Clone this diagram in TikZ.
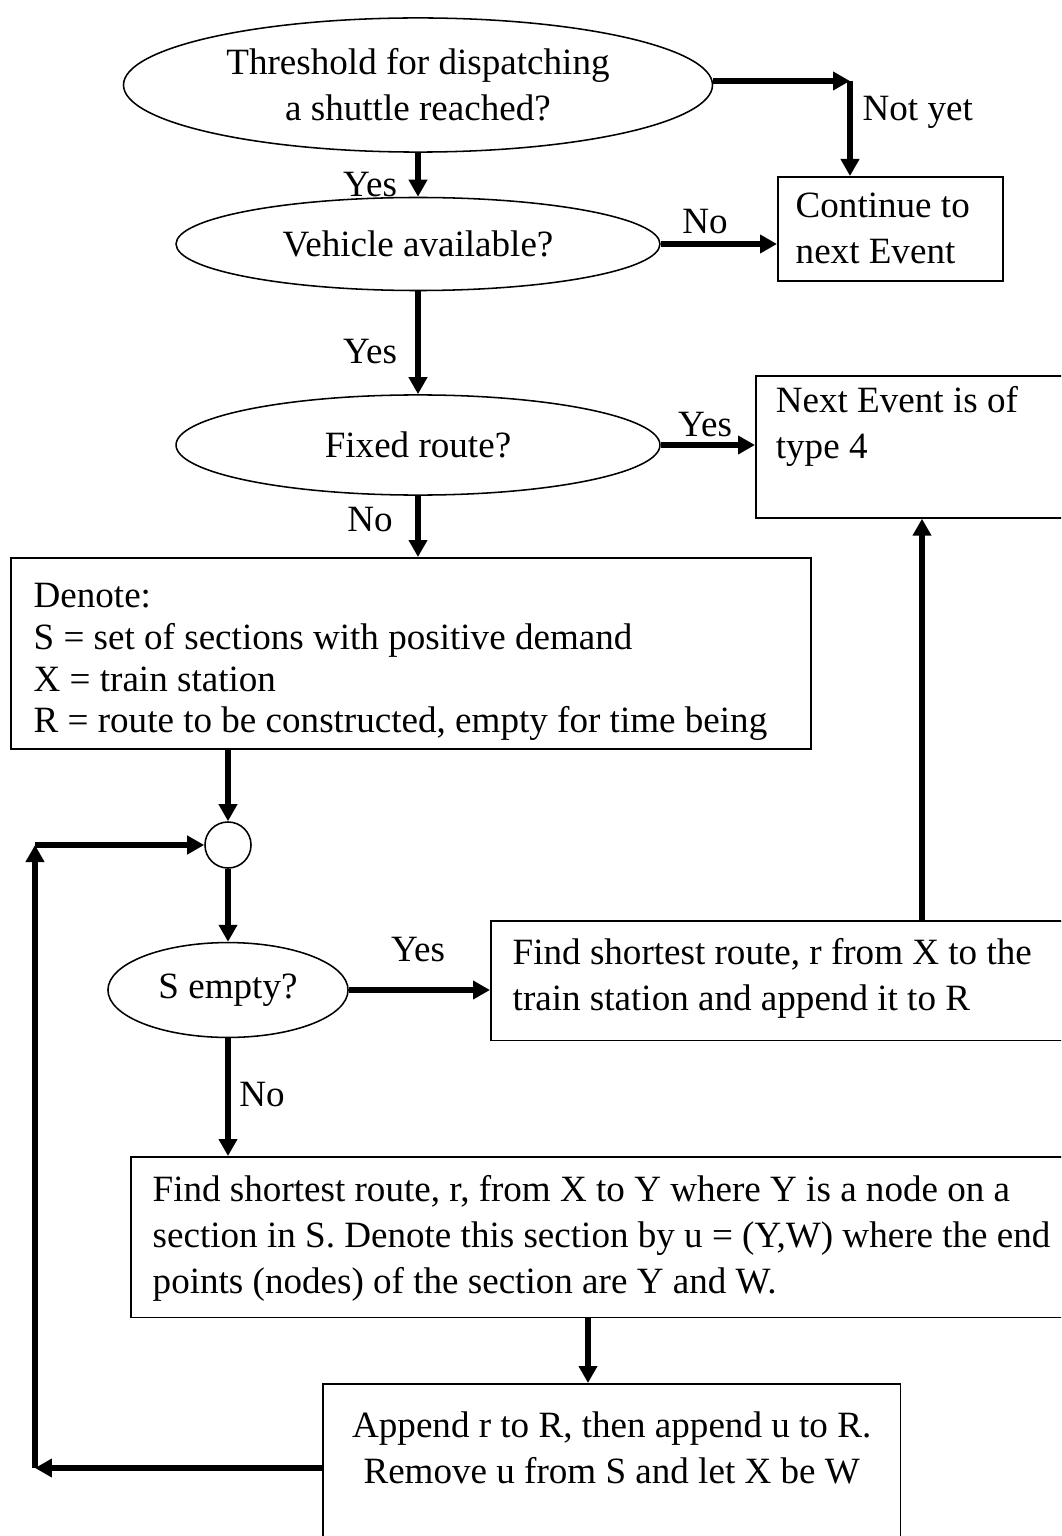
\documentclass[tikz,border=0pt]{standalone}
\usepackage{fontspec}
\setmainfont{Liberation Serif}
\usepackage{tikz}
\usetikzlibrary{shapes.geometric,arrows.meta}

\begin{document}
\begin{tikzpicture}[x=0.3236pt,y=-0.3236pt]
    \tikzstyle{decision} = [ellipse, draw, line width=0.5pt, inner sep=0pt, align=center, font=\fontsize{12pt}{14.9pt}\selectfont]
    \tikzstyle{stepbox} = [rectangle, draw, line width=0.5pt, anchor=north west, inner ysep=0pt, align=flush left, font=\fontsize{12pt}{14.8pt}\selectfont]
    \tikzstyle{flow} = [line width=1.9pt, -{Triangle[length=5.5pt,width=5.8pt]}]
    \tikzstyle{answer} = [inner sep=0pt, font=\fontsize{12pt}{14.8pt}\selectfont]

    \useasboundingbox (0,0) rectangle (1061,1536);
    \clip (0,0) rectangle (1061,1536);

    \node [decision, minimum width=190.6pt, minimum height=43.4pt] (dispatch) at (418,85) {Threshold for dispatching\\a shuttle reached?};
    \node [decision, minimum width=156.6pt, minimum height=30.1pt] (vehicle) at (418,244) {Vehicle available?};
    \node [decision, minimum width=156.6pt, minimum height=32.4pt] (fixed) at (418,445) {Fixed route?};
    \node [stepbox, inner xsep=5.8pt, text width=61.2pt, text height=13.3pt, text depth=20.4pt] (continue) at (777,176) {Continue to\\next Event};
    \node [stepbox, inner xsep=6.5pt, text width=100pt, text height=12pt, text depth=34pt] (nextev) at (755,375) {Next Event is of\\type 4};
    \node [stepbox, inner xsep=7.4pt, text width=244.1pt, text height=16.2pt, text depth=45.6pt, font=\fontsize{12pt}{13.5pt}\selectfont] (denote) at (10,557) {Denote:\\S = set of sections with positive demand\\X = train station\\R = route to be constructed, empty for time being};
    \node [circle, draw, line width=0.5pt, minimum size=14.9pt, inner sep=0pt] (merge) at (228,845) {};
    \node [decision, minimum width=77.7pt, minimum height=30.7pt] (empty) at (228,990) {S empty?};
    \node [stepbox, inner xsep=7.1pt, text width=180pt, text height=14.2pt, text depth=24.6pt] (find1) at (490,920) {Find shortest route, r from X to the\\train station and append it to R};
    \node [stepbox, inner xsep=7.1pt, text width=300pt, text height=14.6pt, text depth=37.4pt] (find2) at (130,1156) {Find shortest route, r, from X to Y where Y is a node on a\\section in S. Denote this section by u = (Y,W) where the end\\points (nodes) of the section are Y and W.};
    \node [stepbox, align=flush center, inner xsep=5pt, text width=177pt, text height=17.5pt, text depth=40pt] (append) at (322,1383) {Append r to R, then append u to R.\\Remove u from S and let X be W};

    % Labels
    \node [answer, anchor=west] (notyet) at (862,112) {Not yet};
    \node [answer] (yes1) at (370,185) {Yes};
    \node [answer] (no1) at (705,222) {No};
    \node [answer] (yes2) at (370,352) {Yes};
    \node [answer] (yes3) at (705,425) {Yes};
    \node [answer] (no2) at (370,520) {No};
    \node [answer] (yes4) at (418,950) {Yes};
    \node [answer] (no3) at (262,1095) {No};

    % Connectors
    \coordinate (nycorner) at (850,81);
    \draw [flow] (dispatch.east |- nycorner) -- (nycorner);
    \draw [flow] (nycorner) -- (nycorner |- continue.north);
    \draw [flow] (dispatch) -- (vehicle);
    \draw [flow] (vehicle.east) -- (vehicle.east -| continue.west);
    \draw [flow] (vehicle) -- (fixed);
    \draw [flow] (fixed.east) -- (fixed.east -| nextev.west);
    \draw [flow] (fixed.south) -- (fixed.south |- denote.north);
    \draw [flow] (merge.north |- denote.south) -- (merge.north);
    \draw [flow] (merge) -- (empty);
    \draw [flow] (empty.east) -- (empty.east -| find1.west);
    \coordinate (upline) at (922,0);
    \draw [flow] (upline |- find1.north) -- (upline |- nextev.south);
    \draw [flow] (empty.south) -- (empty.south |- find2.north);
    \coordinate (downline) at (588,0);
    \draw [flow] (downline |- find2.south) -- (downline |- append.north);
    \coordinate (loopbottom) at (35,1468);
    \coordinate (looptop) at (35,845);
    \draw [flow] (loopbottom -| append.west) -- (loopbottom);
    \draw [flow] (loopbottom) -- (looptop);
    \draw [flow] (looptop) -- (merge.west);
\end{tikzpicture}
\end{document}
